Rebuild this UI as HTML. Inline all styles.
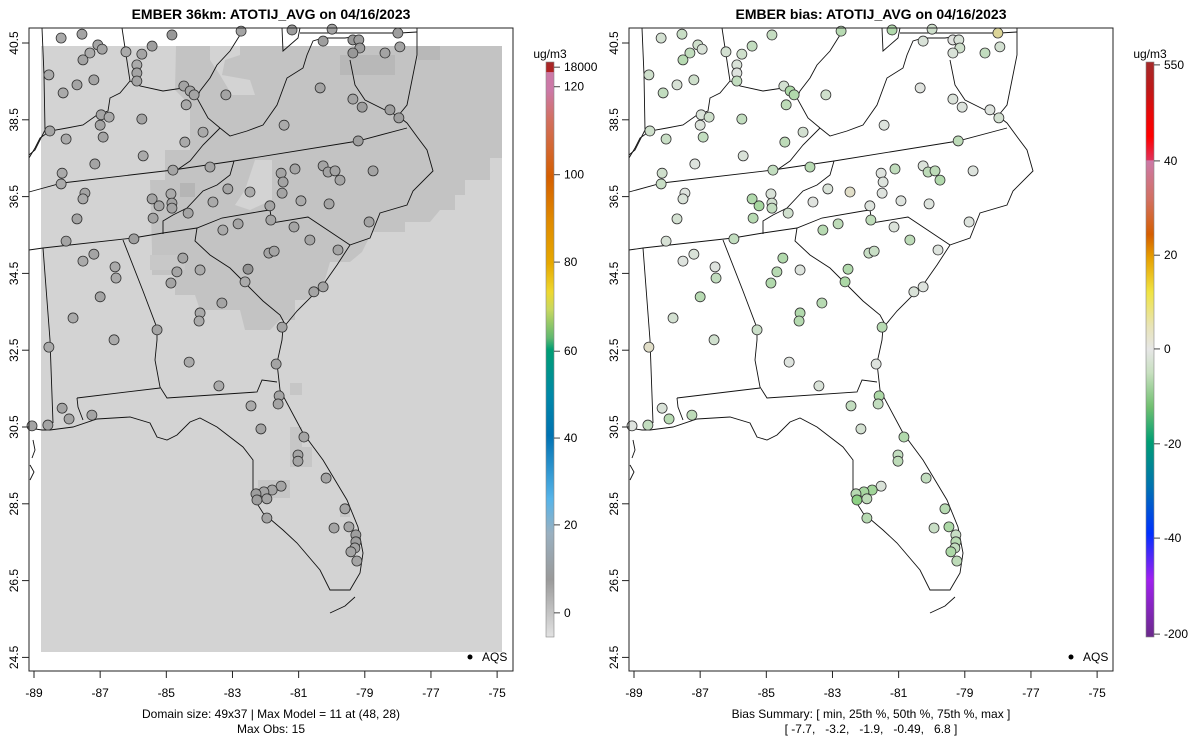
<!DOCTYPE html>
<html><head><meta charset="utf-8"><style>
body{margin:0;background:#fff;}
svg{display:block;font-family:"Liberation Sans",sans-serif;}
</style></head><body>
<svg id="chart" width="1200" height="750" viewBox="0 0 1200 750">
<defs>
<linearGradient id="gL" x1="0" y1="0" x2="0" y2="1">
<stop offset="0" stop-color="#a52a2a"/><stop offset="0.017" stop-color="#b22222"/><stop offset="0.018" stop-color="#cc79a7"/>
<stop offset="0.05" stop-color="#cc79a7"/><stop offset="0.1" stop-color="#d27060"/><stop offset="0.2" stop-color="#d55e00"/>
<stop offset="0.275" stop-color="#e08a00"/><stop offset="0.35" stop-color="#e6a800"/><stop offset="0.4" stop-color="#eed830"/>
<stop offset="0.43" stop-color="#c8d860"/><stop offset="0.48" stop-color="#60b870"/><stop offset="0.5" stop-color="#009e73"/>
<stop offset="0.58" stop-color="#0088a8"/><stop offset="0.65" stop-color="#0072b2"/><stop offset="0.76" stop-color="#56b4e9"/>
<stop offset="0.82" stop-color="#9ab0c0"/><stop offset="0.9" stop-color="#9a9a9a"/><stop offset="1" stop-color="#e2e2e2"/>
</linearGradient>
<linearGradient id="gR" x1="0" y1="0" x2="0" y2="1">
<stop offset="0" stop-color="#a52a2a"/><stop offset="0.05" stop-color="#c01818"/><stop offset="0.09" stop-color="#e80808"/>
<stop offset="0.13" stop-color="#ff0000"/><stop offset="0.17" stop-color="#e03058"/><stop offset="0.172" stop-color="#cc79a7"/>
<stop offset="0.24" stop-color="#d27060"/><stop offset="0.3" stop-color="#d55e00"/><stop offset="0.34" stop-color="#e69f00"/>
<stop offset="0.4" stop-color="#f0e442"/><stop offset="0.46" stop-color="#e8e4b8"/><stop offset="0.5" stop-color="#e6e6e6"/>
<stop offset="0.54" stop-color="#c8e0c0"/><stop offset="0.6" stop-color="#70c070"/><stop offset="0.66" stop-color="#009e73"/>
<stop offset="0.74" stop-color="#0072b2"/><stop offset="0.82" stop-color="#0030ff"/><stop offset="0.9" stop-color="#a020f0"/>
<stop offset="1" stop-color="#6a2a8a"/>
</linearGradient>
<g id="basemap" fill="none" stroke="#111" stroke-width="0.9">
<polyline points="417,28 417,55 412,80 407,105 398,116 407,123 418,138 427,150 433,171 413,191 407,205 380,213 370,238 350,245 337,265 323,285 297,311 283,328 282,340 277,363 280,390 303,433 323,460 347,500 358,527 363,553 360,573 350,590 330,590 320,570 297,543 283,530 263,513 253,497 253,460 243,447 217,427 200,418 190,422 177,435 167,440 157,437 150,423 130,417 97,419 73,427 50,430 42,430 29,428"/>
<polyline points="398,116 385,110 365,100 355,85 350,60"/>
<polyline points="330,613 345,606 355,597"/>
<polyline points="33,440 35,450 32,458"/><polyline points="30,465 34,472 30,480"/>
<polyline points="42,28 44,75 45,130 35,150 29,155"/>
<polyline points="122,28 130,81 140,86 163,91 183,88 197,98 208,118 220,128"/>
<polyline points="197,98 200,91 210,78 217,65 230,51 240,35 243,28"/>
<polyline points="130,81 120,93 110,98 108,111 97,115 83,125 67,128 50,131 40,138 35,148 29,158"/>
<polyline points="29,192 62,183 173,170 234,161 358,141 407,128"/>
<polyline points="220,128 203,145 190,161 177,170"/>
<polyline points="220,128 230,136 247,131 263,125 277,105 287,78 303,68 307,55 313,41 323,38 345,38 360,36"/>
<polyline points="282,28 283,51 298,38 300,28"/>
<polyline points="300,33 400,33 417,32"/>
<polyline points="234,161 230,175 217,185 203,191 187,208 173,215 163,221 163,234"/>
<polyline points="29,250 43,248 133,238 163,233 197,228 222,218 263,211 270,210"/>
<polyline points="270,210 272,223 308,217 350,245"/>
<polyline points="197,228 195,241 210,255 230,268 247,285 263,301 280,315 287,328"/>
<polyline points="43,248 50,340 53,423"/>
<polyline points="123,240 143,291 157,328 157,340 155,360 160,387 167,398 257,392 262,380 277,382"/>
<polyline points="77,398 160,388"/><polyline points="77,398 78,407 83,420"/>
</g>
</defs>

<!-- LEFT PANEL -->
<g>
<text x="271" y="19" text-anchor="middle" font-size="14" font-weight="bold">EMBER 36km: ATOTIJ_AVG on 04/16/2023</text>
<g>
<rect x="41" y="46" width="461" height="606" fill="#d3d3d3"/>
<polygon fill="#c3c3c3" points="176,46 502,46 502,158 490,158 490,180 465,180 465,195 455,195 455,210 440,210 430,222 405,222 405,232 372,232 362,252 350,262 330,262 322,290 305,300 295,300 295,320 280,320 270,330 245,330 240,310 200,310 195,295 175,295 175,275 152,275 152,250 150,180 165,180 165,150 190,150 190,105 175,90"/>
<polygon fill="#d3d3d3" points="210,46 240,46 240,55 225,60 222,75 250,80 255,95 232,95 220,75 210,60"/>
<polygon fill="#d3d3d3" points="255,160 272,160 272,200 250,210 235,205 245,190"/>
<rect x="340" y="55" width="55" height="20" fill="#b8b8b8"/><rect x="418" y="46" width="22" height="14" fill="#b8b8b8"/>
<rect x="180" y="183" width="15" height="14" fill="#b5b5b5"/><rect x="150" y="255" width="35" height="15" fill="#c8c8c8"/>
<rect x="290" y="427" width="12" height="20" fill="#c6c6c6"/><rect x="290" y="447" width="22" height="20" fill="#c6c6c6"/>
<rect x="258" y="480" width="32" height="18" fill="#c6c6c6"/><rect x="340" y="505" width="10" height="12" fill="#c6c6c6"/>
<rect x="290" y="383" width="12" height="12" fill="#c6c6c6"/>
</g>
<use href="#basemap"/>
<g id="ptsL"></g>
<rect x="29" y="28" width="484" height="643" fill="none" stroke="#222" stroke-width="1"/>
<g id="axL" font-size="12"></g>
<circle cx="470" cy="657" r="2.5" fill="#000"/>
<text x="482" y="661" font-size="12">AQS</text>
<text x="271" y="718" text-anchor="middle" font-size="12">Domain size: 49x37 | Max Model = 11 at (48, 28)</text>
<text x="271" y="733" text-anchor="middle" font-size="12">Max Obs: 15</text>
<text x="550" y="58" text-anchor="middle" font-size="12">ug/m3</text>
<rect x="546" y="62" width="8" height="575" fill="url(#gL)" stroke="#888" stroke-width="0.6"/>
<g id="cbL" font-size="12"></g>
</g>

<!-- RIGHT PANEL -->
<g>
<text x="871" y="19" text-anchor="middle" font-size="14" font-weight="bold">EMBER bias: ATOTIJ_AVG on 04/16/2023</text>
<use href="#basemap" transform="translate(600,0)"/>
<g id="ptsR"></g>
<rect x="629" y="28" width="484" height="643" fill="none" stroke="#222" stroke-width="1"/>
<g id="axR" font-size="12"></g>
<circle cx="1071" cy="657" r="2.5" fill="#000"/>
<text x="1083" y="661" font-size="12">AQS</text>
<text x="871" y="718" text-anchor="middle" font-size="12">Bias Summary: [ min, 25th %, 50th %, 75th %, max ]</text>
<text x="871" y="733" text-anchor="middle" font-size="12" xml:space="preserve">[ -7.7,   -3.2,   -1.9,   -0.49,   6.8 ]</text>
<text x="1150" y="58" text-anchor="middle" font-size="12">ug/m3</text>
<rect x="1146" y="62" width="8" height="575" fill="url(#gR)" stroke="#888" stroke-width="0.6"/>
<g id="cbR" font-size="12"></g>
</g>
</svg>
<script>
const lonTicks=[-89,-87,-85,-83,-81,-79,-77,-75];
const latTicks=[40.5,38.5,36.5,34.5,32.5,30.5,28.5,26.5,24.5];
const cbLeftLabels=["18000","120","100","80","60","40","20","0"];
const cbLeftPos=[0.009,0.043,0.196,0.348,0.503,0.654,0.805,0.958];
const cbRightLabels=["550","40","20","0","-20","-40","-200"];
const cbRightPos=[0.005,0.172,0.336,0.499,0.664,0.828,0.995];
const stLon=[-88.18,-87.55,-87.31,-87.07,-86.94,-87.52,-86.22,-85.74,-85.43,-84.83,-85.89,-85.89,-85.89,-88.55,-87.70,-87.19,-88.12,-84.47,-84.28,-84.16,-83.20,-84.40,-85.74,-86.97,-86.73,-87.00,-88.52,-88.03,-86.91,-83.89,-84.44,-85.70,-87.16,-88.15,-88.18,-84.80,-83.68,-87.46,-87.52,-87.70,-88.03,-85.43,-85.22,-85.40,-84.86,-84.83,-84.83,-84.34,-83.59,-83.14,-82.47,-81.53,-81.11,-81.47,-81.50,-81.87,-81.84,-80.93,-80.26,-80.11,-79.90,-79.75,-80.08,-78.75,-79.20,-81.44,-80.35,-82.74,-81.20,-80.26,-79.99,-79.36,-79.18,-79.15,-79.36,-78.39,-78.00,-77.94,-79.36,-79.08,-78.24,-77.97,-78.87,-81.14,-80.66,-79.81,-81.90,-81.74,-82.53,-83.29,-82.83,-85.98,-87.52,-87.19,-86.55,-86.52,-87.00,-87.82,-84.50,-84.68,-84.86,-83.98,-82.62,-80.54,-80.26,-83.32,-83.98,-84.01,-81.50,-85.28,-86.58,-88.55,-84.31,-83.41,-81.68,-81.59,-81.62,-82.44,-82.14,-88.15,-87.94,-87.25,-88.58,-89.06,-80.84,-81.02,-81.02,-80.17,-81.53,-81.80,-82.05,-82.29,-82.26,-81.96,-81.96,-79.60,-79.93,-79.48,-79.27,-79.27,-79.30,-79.42,-79.24];
const stLat=[40.63,40.73,40.24,40.45,40.34,40.06,40.27,40.21,40.42,40.71,39.93,39.72,39.51,39.67,39.41,39.54,39.20,39.38,39.25,39.15,39.15,38.89,38.52,38.63,38.57,38.36,38.21,38.00,38.05,38.18,37.92,37.56,37.35,37.11,36.83,37.19,37.27,36.59,36.44,35.92,35.34,36.44,36.26,35.94,36.57,36.33,36.20,36.07,36.36,36.70,36.62,37.11,37.22,36.88,36.59,36.26,35.89,36.39,37.30,37.14,37.17,36.93,36.31,37.17,37.95,38.36,39.33,40.81,40.84,40.55,40.86,40.58,40.58,40.37,40.24,40.24,40.76,40.40,39.04,38.83,38.76,38.55,35.84,35.71,35.37,35.11,35.03,35.08,34.61,35.63,35.79,35.40,34.82,35.00,34.67,34.38,33.89,33.34,34.90,34.54,34.25,34.59,34.28,34.02,34.15,33.73,33.47,33.26,33.10,33.03,32.77,32.58,32.19,31.57,32.14,31.31,31.10,31.05,30.45,30.99,30.71,30.81,30.55,30.53,30.24,29.77,29.61,29.17,28.96,28.86,28.81,28.76,28.60,28.63,28.13,28.37,27.87,27.90,27.69,27.51,27.35,27.25,27.01];
const stObs=[5,6,5,6,6,6,5,6,7,8,5,6,6,5,6,6,5,6,6,6,6,5,6,6,5,6,6,5,6,5,5,5,6,5,5,6,6,6,5,6,6,6,6,6,5,6,6,6,5,6,5,6,6,6,6,6,6,5,6,6,6,6,6,6,7,5,6,6,7,7,6,8,7,7,8,6,7,6,6,7,7,7,6,6,6,6,6,6,9,5,6,7,5,6,5,5,6,5,6,6,6,5,5,6,6,6,5,5,6,6,5,5,5,5,6,6,6,5,6,6,6,6,6,6,6,6,6,6,6,6,6,7,7,6,6,6,6,6,7,7,6,6,6];
const stBias=[-1.5,-2.5,-3.2,-2,-1,-4,-1.5,-2,-3,-2.8,-1,-0.5,-3,-2,-1.2,-2,-3,-1.5,-5,-4.5,-1.9,-3.5,-3,-1,-2,-0.8,-2,-2.5,-3,-1.5,-3.5,-1,-0.5,-1.9,-2.5,-3,-4,-0.5,-1,-1.5,-1.2,-4.5,-5.5,-4,-1,-1.5,-3,-1.8,-0.4,-1,2.5,-0.5,-3.2,-0.6,-0.5,-0.6,-3.5,-0.5,-0.8,-3.5,-3.5,-4.5,-0.6,-0.6,-3.5,-0.6,-0.4,-4,-4.5,-1,-2,-0.3,-1,-2,-1,-3,6.8,-1.5,-0.8,-0.6,-0.5,-1.5,-0.6,-0.8,-3.5,-0.6,-2.5,-2.5,-4.5,-4,-3.5,-3,-0.5,-1,-0.5,-3,-4,-1.5,-4.5,-4,-4.5,-0.6,-5,-1,-0.5,-4,-4.5,-4.2,-4,-2.2,-1.8,2.5,-0.5,-1,-0.5,-5,-3,-3,-1.5,-1,-4,-3.5,-3,-0.5,-4.5,-3,-3.5,-3,-1,-6,-5.5,-4,-7.7,-3.5,-4,-4,-2.5,-5,-2.5,-4,-3,-5,-3.5,-4];

function xS(lon,off){return 34+(lon+89)*33.08+off;}
function yS(lat){return 43+(40.5-lat)*38.4;}
const NS="http://www.w3.org/2000/svg";
function mk(tag,attrs,parent){const e=document.createElementNS(NS,tag);for(const k in attrs)e.setAttribute(k,attrs[k]);parent.appendChild(e);return e;}
function obsColor(v){const g=Math.round(200-v*6);return "rgb("+g+","+g+","+g+")";}
function biasColor(b){
 if(b>=0){const t=Math.min(b/8,1);return "rgb("+Math.round(228-t*10)+","+Math.round(228-t*18)+","+Math.round(228-t*90)+")";}
 const t=Math.min(-b/8,1);return "rgb("+Math.round(228-t*90)+","+Math.round(228-t*20)+","+Math.round(228-t*100)+")";
}
function axes(gid,off){
 const g=document.getElementById(gid);
 lonTicks.forEach(v=>{const x=xS(v,off);
  const t=mk("line",{x1:x,y1:671,x2:x,y2:678,stroke:"#222"},g);
  
  
  const l=mk("text",{x:x,y:697,"text-anchor":"middle"},g);l.textContent=String(v);
  
  });
 lonTicks.slice(0,1);
 const xa=mk("line",{x1:xS(lonTicks[0],off),y1:671,x2:xS(lonTicks[lonTicks.length-1],off),y2:671,stroke:"#222"},g);
 
 
 latTicks.forEach(v=>{const y=yS(v);const x0=29+off;
  const t=mk("line",{x1:x0-7,y1:y,x2:x0,y2:y,stroke:"#222"},g);
  
  
  const l=mk("text",{x:x0-11,y:y,"text-anchor":"middle",transform:"rotate(-90 "+(x0-11)+" "+y+")"},g);l.textContent=v.toFixed(1);
  
  });
}
axes("axL",0);axes("axR",600);
function cbar(gid,x,labels,pos){const g=document.getElementById(gid);
 labels.forEach((s,i)=>{const y=62+pos[i]*575;
  const t=mk("line",{x1:x,y1:y,x2:x+6,y2:y,stroke:"#444"},g);
  
  
  const l=mk("text",{x:x+10,y:y+4},g);l.textContent=s;
  
  });}
cbar("cbL",554,cbLeftLabels,cbLeftPos);cbar("cbR",1154,cbRightLabels,cbRightPos);
const gL=document.getElementById("ptsL"),gR=document.getElementById("ptsR");
stLon.forEach((lon,i)=>{
 const a=mk("circle",{cx:xS(lon,0),cy:yS(stLat[i]),r:5,fill:obsColor(stObs[i]),stroke:"#333","stroke-width":0.8},gL);
 
 
 const b=mk("circle",{cx:xS(lon,600),cy:yS(stLat[i]),r:5,fill:biasColor(stBias[i]),stroke:"#333","stroke-width":0.8},gR);
 
 
});
</script>
</body></html>
